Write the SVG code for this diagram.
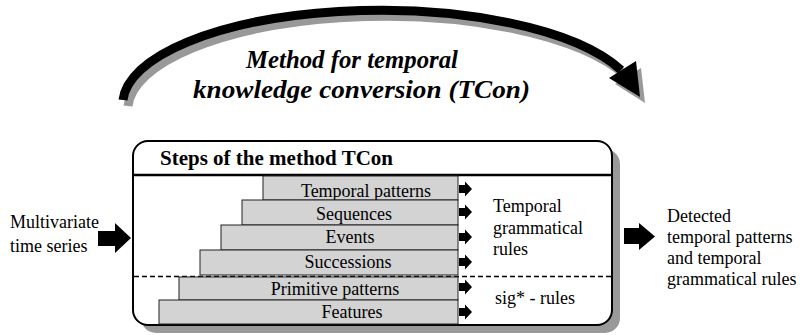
<svg xmlns="http://www.w3.org/2000/svg" width="801" height="335" viewBox="0 0 801 335" font-family="Liberation Serif, Times New Roman, serif">
<defs>
<style>
.t{font-size:18px}
.c{text-anchor:middle}
.row{fill:#d3d3d3;stroke:#222;stroke-width:1}
.title{font-size:25px;font-weight:bold;font-style:italic}
</style>
<path id="sarrow" d="M0 -4 H6 V-7.5 L13 0 L6 7.5 V4 H0 Z"/>
</defs>
<rect width="801" height="335" fill="#fff"/>

<g id="method-arc">
<g transform="translate(5,6)">
<path d="M123 100 A258 94 0 0 1 621 70" fill="none" stroke="#999" stroke-width="9"/>
<polygon points="636,62 610,78 640,97" fill="#999"/>
</g>
<path d="M123 100 A258 94 0 0 1 621 70" fill="none" stroke="#000" stroke-width="9"/>
<polygon points="636,61 609,78 640,97" fill="#000"/>
<text class="title" x="246" y="68" textLength="212" lengthAdjust="spacingAndGlyphs">Method for temporal</text>
<text class="title" x="193" y="98" textLength="337" lengthAdjust="spacingAndGlyphs">knowledge conversion (TCon)</text>
</g>

<g id="tcon-box">
<rect x="141" y="149" width="479" height="184" rx="15" fill="#999"/>
<rect x="133" y="141" width="479" height="184" rx="15" fill="#fff" stroke="#000" stroke-width="2"/>
<line x1="133" y1="175" x2="612" y2="175" stroke="#000" stroke-width="2.5"/>
<line x1="134" y1="276.5" x2="612" y2="276.5" stroke="#000" stroke-width="1.5" stroke-dasharray="5,3"/>
<text x="160" y="165" font-size="20" font-weight="bold" textLength="233" lengthAdjust="spacingAndGlyphs">Steps of the method TCon</text>
</g>

<g id="step-temporal-patterns">
<rect class="row" x="263" y="176" width="195" height="24"/>
<text class="t c" x="366" y="197">Temporal patterns</text>
</g>
<g id="step-sequences">
<rect class="row" x="242" y="200" width="216" height="25"/>
<text class="t c" x="354" y="220">Sequences</text>
</g>
<g id="step-events">
<rect class="row" x="221" y="225" width="237" height="25"/>
<text class="t c" x="350" y="243">Events</text>
</g>
<g id="step-successions">
<rect class="row" x="200" y="250" width="258" height="25"/>
<text class="t c" x="348" y="268">Successions</text>
</g>
<g id="step-primitive-patterns">
<rect class="row" x="179" y="277" width="279" height="23"/>
<text class="t c" x="335" y="295">Primitive patterns</text>
</g>
<g id="step-features">
<rect class="row" x="159" y="300" width="299" height="24"/>
<text class="t c" x="352" y="318">Features</text>
</g>

<g id="rules-temporal">
<text class="t" x="493" y="212">Temporal</text>
<text class="t" x="493" y="234">grammatical</text>
<text class="t" x="493" y="255">rules</text>
</g>
<g id="rules-sig">
<text class="t" x="495" y="304">sig* - rules</text>
</g>

<g id="input">
<text class="t" x="10" y="228">Multivariate</text>
<text class="t" x="10" y="252">time series</text>
</g>
<g id="output">
<text class="t" x="667" y="222">Detected</text>
<text class="t" x="667" y="243">temporal patterns</text>
<text class="t" x="667" y="264">and temporal</text>
<text class="t" x="667" y="285">grammatical rules</text>
</g>

<g id="connectors">
<use href="#sarrow" x="459" y="189"/>
<use href="#sarrow" x="459" y="212"/>
<use href="#sarrow" x="459" y="237"/>
<use href="#sarrow" x="459" y="262"/>
<use href="#sarrow" x="459" y="287"/>
<use href="#sarrow" x="459" y="312"/>
<polygon points="98,231 115,231 115,223 131,238 115,253 115,246 98,246"/>
<polygon points="624,228 639,228 639,223 655,236.5 639,250 639,244 624,244"/>
</g>
</svg>
